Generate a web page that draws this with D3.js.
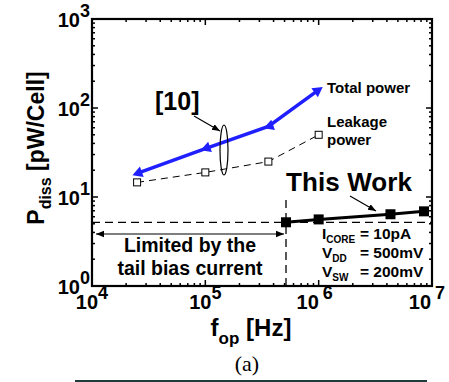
<!DOCTYPE html>
<html><head><meta charset="utf-8">
<script src="https://cdn.jsdelivr.net/npm/d3@7"></script>
<style>body{margin:0;background:#fff}svg{display:block}text{font-family:"Liberation Sans",Arial,sans-serif;font-weight:bold}</style>
</head><body><svg id="c" width="449" height="382"></svg>
<script>
const totalF = [2.5e4, 1e5, 3.6e5, 1e6];
const totalP = [18.4, 35, 62, 160];
const leakF = [2.5e4, 1e5, 3.6e5, 1e6];
const leakP = [14.6, 18.9, 25, 50];
const workF = [5.15e5, 1e6, 4.3e6, 8.5e6];
const workP = [5.2, 5.6, 6.4, 6.9];
const xTicks = [1e4, 1e5, 1e6, 1e7];
const xTickExp = ["4", "5", "6", "7"];
const yTicks = [1, 10, 100, 1000];
const yTickExp = ["0", "1", "2", "3"];
const limitP = 5.2, limitF = 5.15e5;

const svg = d3.select("#c");
const L = 92, R = 432, T = 19, B = 286;
const x = d3.scaleLog().domain([1e4, 1e7]).range([L, R]);
const y = d3.scaleLog().domain([1, 1000]).range([B, T]);

svg.append("defs").html(`
<marker id="ah" viewBox="0 0 10 10" refX="10" refY="5" markerWidth="8" markerHeight="8" orient="auto-start-reverse" markerUnits="userSpaceOnUse"><path d="M0,1 L10,5 L0,9 z" fill="#000"/></marker>`);

// minor ticks
const minorX = [], minorY = [];
for (let e = 4; e < 7; e++) for (let k = 2; k <= 9; k++) minorX.push(k * Math.pow(10, e));
for (let e = 0; e < 3; e++) for (let k = 2; k <= 9; k++) minorY.push(k * Math.pow(10, e));
const g = svg.append("g").attr("stroke", "#000").attr("stroke-width", 1.5);
minorX.forEach(v => {
  g.append("line").attr("x1", x(v)).attr("x2", x(v)).attr("y1", B).attr("y2", B - 3);
  g.append("line").attr("x1", x(v)).attr("x2", x(v)).attr("y1", T).attr("y2", T + 3);
});
minorY.forEach(v => {
  g.append("line").attr("y1", y(v)).attr("y2", y(v)).attr("x1", L).attr("x2", L + 3);
  g.append("line").attr("y1", y(v)).attr("y2", y(v)).attr("x1", R).attr("x2", R - 3);
});
xTicks.forEach(v => {
  g.append("line").attr("x1", x(v)).attr("x2", x(v)).attr("y1", B).attr("y2", B - 6);
  g.append("line").attr("x1", x(v)).attr("x2", x(v)).attr("y1", T).attr("y2", T + 6);
});
yTicks.forEach(v => {
  g.append("line").attr("y1", y(v)).attr("y2", y(v)).attr("x1", L).attr("x2", L + 6);
  g.append("line").attr("y1", y(v)).attr("y2", y(v)).attr("x1", R).attr("x2", R - 6);
});
svg.append("rect").attr("x", L).attr("y", T).attr("width", R - L).attr("height", B - T)
  .attr("fill", "none").attr("stroke", "#000").attr("stroke-width", 2.2);

// tick labels
yTicks.forEach((v, i) => {
  const t = svg.append("text").attr("x", 90).attr("y", y(v) + 8).attr("text-anchor", "end").attr("font-size", 20);
  t.append("tspan").text("10");
  t.append("tspan").attr("dy", -10).attr("font-size", 18).text(yTickExp[i]);
});
const xOff = [0, 0, -4, -5];
xTicks.forEach((v, i) => {
  const t = svg.append("text").attr("x", x(v) + xOff[i]).attr("y", 309).attr("text-anchor", "middle").attr("font-size", 20);
  t.append("tspan").text("10");
  t.append("tspan").attr("dx", i >= 2 ? 4 : 0).attr("dy", -10).attr("font-size", 18).text(xTickExp[i]);
});

// axis labels
const yl = svg.append("text").attr("transform", "translate(44,148) rotate(-90)").attr("text-anchor", "middle").attr("font-size", 23);
yl.append("tspan").text("P");
yl.append("tspan").attr("dy", 7).attr("font-size", 16).text("diss");
yl.append("tspan").attr("dy", -7).text(" [pW/Cell]");
const xl = svg.append("text").attr("x", 251).attr("y", 336).attr("text-anchor", "middle").attr("font-size", 24);
xl.append("tspan").text("f");
xl.append("tspan").attr("dy", 8).attr("font-size", 17).text("op");
xl.append("tspan").attr("dy", -8).text(" [Hz]");
svg.append("text").attr("x", 247).attr("y", 371).attr("text-anchor", "middle").attr("font-size", 22)
  .style("font-family", "'Liberation Serif','Times New Roman',serif").style("font-weight", "normal").text("(a)");
svg.append("line").attr("x1", 75).attr("x2", 427).attr("y1", 381).attr("y2", 381).attr("stroke", "#1e3c3a").attr("stroke-width", 2);

// dashed limit lines
svg.append("line").attr("x1", L).attr("x2", R).attr("y1", y(limitP)).attr("y2", y(limitP))
  .attr("stroke", "#000").attr("stroke-width", 1.3).attr("stroke-dasharray", "8,5");
svg.append("line").attr("x1", x(limitF)).attr("x2", x(limitF)).attr("y1", 200).attr("y2", B)
  .attr("stroke", "#000").attr("stroke-width", 1.3).attr("stroke-dasharray", "8,5");
svg.append("line").attr("x1", L + 4).attr("x2", x(limitF) - 2).attr("y1", 234).attr("y2", 234)
  .attr("stroke", "#000").attr("stroke-width", 1.2).attr("marker-start", "url(#ah)").attr("marker-end", "url(#ah)");
svg.append("text").attr("x", 190).attr("y", 252).attr("text-anchor", "middle").attr("font-size", 19.5).text("Limited by the");
svg.append("text").attr("x", 190).attr("y", 275).attr("text-anchor", "middle").attr("font-size", 19.5).text("tail bias current");

const line = d3.line().x(d => x(d[0])).y(d => y(d[1]));
// leakage
const leak = leakF.map((f, i) => [f, leakP[i]]);
svg.append("path").attr("d", line(leak)).attr("fill", "none").attr("stroke", "#000").attr("stroke-width", 1).attr("stroke-dasharray", "7,5");
svg.selectAll(".lk").data(leak).enter().append("rect").attr("x", d => x(d[0]) - 3.5).attr("y", d => y(d[1]) - 3.5)
  .attr("width", 7).attr("height", 7).attr("fill", "#fff").attr("stroke", "#000").attr("stroke-width", 1);
// total
const tot = totalF.map((f, i) => [f, totalP[i]]);
svg.append("path").attr("d", line(tot)).attr("fill", "none").attr("stroke", "#1f1fff").attr("stroke-width", 3.5);
svg.selectAll(".tt").data(tot).enter().append("path")
  .attr("d", "M-5,0 L5,-5.5 L5,5.5 Z").attr("fill", "#1f1fff")
  .attr("transform", (d, i) => {
    const j = i === 0 ? 1 : i;
    const a = Math.atan2(y(tot[j][1]) - y(tot[j - 1][1]), x(tot[j][0]) - x(tot[j - 1][0])) * 180 / Math.PI;
    return `translate(${x(d[0])},${y(d[1])}) rotate(${i === tot.length - 1 ? a + 180 : a})`;
  });
// this work
const wk = workF.map((f, i) => [f, workP[i]]);
svg.append("path").attr("d", line(wk)).attr("fill", "none").attr("stroke", "#000").attr("stroke-width", 3);
svg.selectAll(".wk").data(wk).enter().append("rect").attr("x", d => x(d[0]) - 5).attr("y", d => y(d[1]) - 5)
  .attr("width", 10).attr("height", 10).attr("fill", "#000");

// annotations
svg.append("text").attr("x", 327).attr("y", 93).attr("font-size", 15).text("Total power");
svg.append("text").attr("x", 327).attr("y", 127).attr("font-size", 15).text("Leakage");
svg.append("text").attr("x", 327).attr("y", 145).attr("font-size", 15).text("power");
svg.append("text").attr("x", 155).attr("y", 110).attr("font-size", 25).text("[10]");
svg.append("line").attr("x1", 194).attr("y1", 116).attr("x2", 220).attr("y2", 131)
  .attr("stroke", "#000").attr("stroke-width", 1.2).attr("marker-end", "url(#ah)");
svg.append("ellipse").attr("cx", 224).attr("cy", 150).attr("rx", 4).attr("ry", 25)
  .attr("fill", "none").attr("stroke", "#000").attr("stroke-width", 1.2);
svg.append("text").attr("x", 286).attr("y", 191).attr("font-size", 26).attr("textLength", 126).text("This Work");
svg.append("line").attr("x1", 350).attr("y1", 196).attr("x2", 376).attr("y2", 211)
  .attr("stroke", "#000").attr("stroke-width", 1.2).attr("marker-end", "url(#ah)");

function param(yb, main, sub, val) {
  const t = svg.append("text").attr("x", 322).attr("y", yb).attr("font-size", 15.5);
  t.append("tspan").text(main);
  t.append("tspan").attr("dy", 4).attr("font-size", 10).text(sub);
  t.append("tspan").attr("dy", -4).attr("x", 360).text(val);
}
param(239, "I", "CORE", "= 10pA");
param(258, "V", "DD", "= 500mV");
param(277, "V", "SW", "= 200mV");
</script></body></html>
